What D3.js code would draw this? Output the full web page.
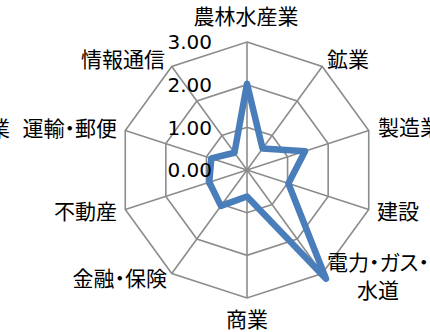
<!DOCTYPE html>
<html>
<head>
<meta charset="utf-8">
<script src="https://cdn.jsdelivr.net/npm/d3@7"></script>
<style>
  html, body { margin: 0; padding: 0; background: #fff; }
  svg { display: block; }
  .axis-label { font-family: "Noto Sans CJK JP", sans-serif; font-size: 21px; fill: #000; font-feature-settings: "palt"; }
  .tick-label { font-family: "DejaVu Sans", sans-serif; font-size: 20px; fill: #000; }
</style>
</head>
<body>
<svg id="chart" width="430" height="332"></svg>
<script>
  // categories, clockwise from the top
  var categories = ['農林水産業', '鉱業', '製造業', '建設', '電力・ガス・水道',
    '商業', '金融・保険', '不動産', '運輸・郵便', '情報通信'];
  var values = [2.02, 0.62, 1.43, 1.02, 3.15, 0.62, 1.04, 0.93, 0.88, 0.5];
  var ticks = [0, 1, 2, 3];
  var tickLabels = ['0.00', '1.00', '2.00', '3.00'];

  var cx = 247;
  var cy = 170;
  var radius = 128;

  var svg = d3.select('#chart');
  var g = svg.append('g').attr('transform', 'translate(' + cx + ',' + cy + ')');

  var r = d3.scaleLinear().domain([0, 3]).range([0, radius]);
  var angle = d3.scalePoint()
    .domain(d3.range(categories.length + 1))
    .range([0, 2 * Math.PI]);

  function point(i, v) {
    var a = angle(i);
    return [r(v) * Math.sin(a), -r(v) * Math.cos(a)];
  }

  // grid rings
  ticks.filter(function (t) { return t > 0; }).forEach(function (t) {
    g.append('path')
      .attr('d', d3.line()(categories.map(function (c, i) { return point(i, t); })) + 'Z')
      .attr('fill', 'none')
      .attr('stroke', '#8c8c8c')
      .attr('stroke-width', 1.6);
  });

  // spokes
  categories.forEach(function (c, i) {
    var p = point(i, 3);
    g.append('line')
      .attr('x1', 0).attr('y1', 0)
      .attr('x2', p[0]).attr('y2', p[1])
      .attr('stroke', '#8c8c8c')
      .attr('stroke-width', 1.6);
  });

  // data line
  var line = d3.line().curve(d3.curveLinearClosed);
  g.append('path')
    .attr('d', line(values.map(function (v, i) { return point(i, v); })))
    .attr('fill', 'none')
    .attr('stroke', '#4a7ebb')
    .attr('stroke-width', 6.5)
    .attr('stroke-linejoin', 'round')
    .attr('stroke-linecap', 'round');

  // tick labels, left of the vertical axis
  ticks.forEach(function (t, i) {
    g.append('text')
      .attr('class', 'tick-label')
      .attr('x', -35)
      .attr('y', -r(t))
      .attr('dy', '0.36em')
      .attr('text-anchor', 'end')
      .text(tickLabels[i]);
  });

  // category labels
  var labelPos = [
    { x: -1, y: -153, anchor: 'middle' },
    { x: 80, y: -110, anchor: 'start' },
    { x: 131, y: -42, anchor: 'start' },
    { x: 130, y: 42, anchor: 'start' },
    { x: 131, y: 93, anchor: 'middle', lines: ['電力・ガス・', '水道'] },
    { x: 0, y: 150, anchor: 'middle' },
    { x: -80, y: 109, anchor: 'end' },
    { x: -130, y: 42, anchor: 'end' },
    { x: -130, y: -41, anchor: 'end' },
    { x: -82, y: -110, anchor: 'end' }
  ];

  categories.forEach(function (c, i) {
    var lp = labelPos[i];
    var lines = lp.lines || [c];
    var text = g.append('text')
      .attr('class', 'axis-label')
      .attr('text-anchor', lp.anchor);
    lines.forEach(function (s, k) {
      text.append('tspan')
        .attr('x', lp.x)
        .attr('y', lp.y + k * 28)
        .attr('dy', '0.35em')
        .text(s);
    });
  });

  // stray clipped label at the left edge
  g.append('text')
    .attr('class', 'axis-label')
    .attr('x', 10 - cx)
    .attr('y', -41)
    .attr('dy', '0.35em')
    .attr('text-anchor', 'end')
    .text('業');
</script>
</body>
</html>
